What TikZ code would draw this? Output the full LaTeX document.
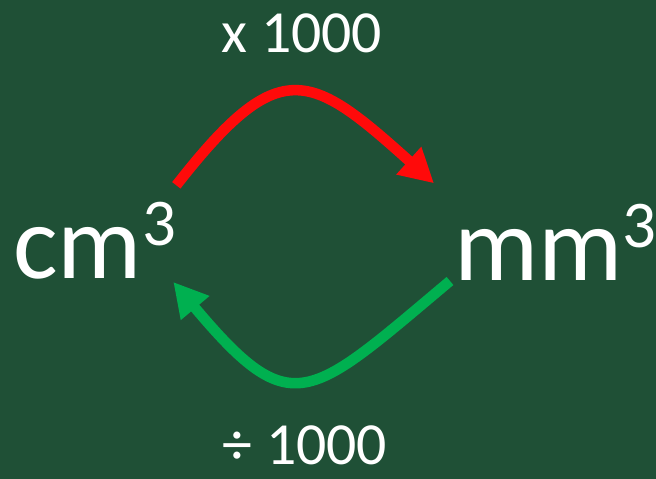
\documentclass[tikz,border=0pt]{standalone}
\usepackage{fontspec}
\setmainfont{Carlito}
\usepackage{tikz}
\usetikzlibrary{arrows.meta}
\definecolor{board}{RGB}{31,80,54}
\definecolor{mulred}{RGB}{255,10,10}
\definecolor{divgreen}{RGB}{0,176,80}
\newcommand{\Cub}{\raisebox{0.66cm}{\fontsize{38}{40}\selectfont 3}}
\tikzset{
  qty/.style={text=white, inner sep=0pt, anchor=base west, font=\fontsize{60}{64}\selectfont},
  opl/.style={text=white, inner sep=0pt, anchor=base, font=\fontsize{34}{36}\selectfont},
  mularr/.style={-{Triangle[length=0.68cm, width=0.7cm]}, mulred, line width=6pt},
  divarr/.style={-{Triangle[length=0.68cm, width=0.7cm]}, divgreen, line width=6pt},
}
\begin{document}
\begin{tikzpicture}[x=0.02cm, y=0.02cm]
    \useasboundingbox (0,0) rectangle (656,479);
    \fill[board] (0,0) rectangle (656,479);
    \node[qty] (cm) at (13,200) {cm\Cub};
    \node[qty] (mm) at (454,198) {mm\Cub};
    \node[opl] (times) at (302,426) {x 1000};
    \node[opl] (divide) at (305,14) {÷ 1000};
    % conversion arrows
    \draw[mularr] ([yshift=0.34cm]cm.north east) .. controls +(52:3.35cm) and +(138:3.35cm) .. ([shift={(-0.4cm,0.42cm)}]mm.north west);
    \draw[divarr] ([xshift=-0.08cm]mm.base west) .. controls +(220:3.7cm) and +(310:3.7cm) .. ([shift={(-0.06cm,-0.06cm)}]cm.base east);
  \end{tikzpicture}
\end{document}
